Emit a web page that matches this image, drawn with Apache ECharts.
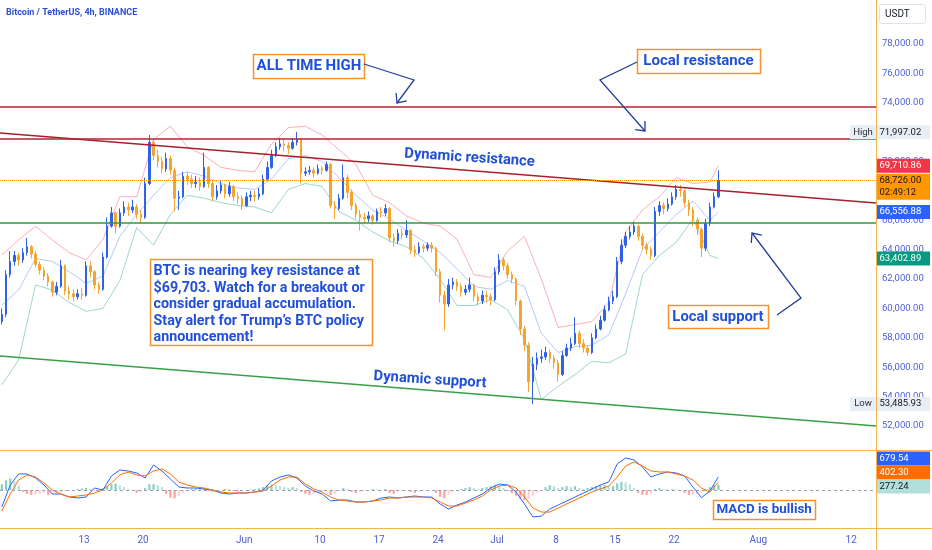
<!DOCTYPE html>
<html><head><meta charset="utf-8">
<script src="https://cdn.jsdelivr.net/npm/echarts@6/dist/echarts.min.js"></script>
<style>html,body{margin:0;padding:0;background:#fff}#c{width:932px;height:550px}</style>
</head><body><div id="c"></div>
<script>
// ---------- DATA (12h candles) ----------
const firstOpen = 59100;
const closes = [59600,62300,63200,63600,63300,63800,64200,63700,63000,62600,
62200,61800,61100,61500,62900,61200,61000,60800,61000,60900,
62900,62500,61600,61300,63500,65600,66500,65600,66500,66900,
66700,66900,66400,66200,68500,71300,70400,70000,69500,70200,
69400,67500,67600,69000,68800,68500,68600,68300,69600,68500,
67600,68000,68400,67800,68300,67600,67500,67000,67600,67700,
67600,67800,68800,69600,70400,71000,71200,71100,70900,71300,
71500,69200,69300,69400,69200,69500,69400,69800,67000,66800,
67500,68900,67900,67000,66400,66200,66100,66300,66000,66600,
66500,66800,64800,64600,65100,65000,65300,64000,63800,64200,
64100,64300,64100,62500,60900,60300,61600,61800,61500,61100,
61300,61600,60800,60500,60900,60800,60600,62500,63300,62900,
62300,62000,60500,58600,57500,55000,56200,56600,56700,57000,
56600,56300,55500,56800,57300,57600,58300,57600,57300,57000,
58000,58600,59200,59900,60500,60800,63200,64300,64900,65200,
65600,64900,64300,64000,63600,66600,67000,66800,67100,67600,
68100,68000,67200,66700,66000,65400,64100,65800,66900,67600,
68726];
const highs = [60000,62600,63900,63900,63800,64100,64800,64300,63900,63200,
62800,62400,61900,61800,63300,63000,61500,61300,61300,61400,
63200,63200,62600,61800,63800,66200,66900,66600,66800,67300,
67200,67400,67100,66700,68900,71800,71500,70800,70300,70600,
70400,69600,68000,69300,69300,69100,69000,68900,70600,69700,
68700,68400,68700,68500,68600,68400,67900,67700,67900,68000,
68000,68200,69100,70000,70800,71300,71600,71500,71300,71600,
71997,71600,69600,69700,69600,69800,69700,70000,69900,67300,
67800,69800,69100,68100,67200,66700,66500,66600,66400,66800,
66900,67100,66900,65100,65400,65400,66000,65400,64300,64500,
64400,64500,64500,64200,62700,61200,62000,62100,62000,61700,
61600,62100,61700,61000,61200,61200,61000,62800,63700,63500,
63100,62500,62100,60600,58800,57700,56700,57000,57200,57400,
57200,56800,56500,57100,57600,58000,59400,58500,57900,57500,
58300,58900,59500,60200,60800,61200,63500,64700,65200,65600,
65900,65700,65100,64500,64200,66900,67300,67200,67500,67900,
68400,68400,68100,67400,66900,66200,65500,66100,67200,67900,
69400];
const lows = [58900,59400,62100,62900,62900,63100,63600,63400,62800,62300,
61900,61500,60800,60900,61400,60900,60600,60500,60600,60600,
60800,62100,61300,61000,61200,63400,65500,65100,65500,66300,
66300,66500,66100,65800,66100,68400,70100,69600,69200,69300,
69100,66600,66700,67500,68400,68200,68200,68000,68200,68200,
67300,67400,67800,67500,67600,67300,67100,66700,66900,67300,
67300,67400,67700,68700,69500,70300,70800,70700,70500,70800,
71100,68500,69000,69100,68900,69100,69100,69300,66800,66100,
66700,67400,67500,66700,66100,65300,65800,65900,65700,65900,
66200,66300,64500,64200,64400,64700,64800,63700,63500,63700,
63800,63900,63800,62200,60400,58500,60100,61300,61200,60800,
60900,61100,60500,60200,60300,60400,60200,60500,62300,62600,
62000,61700,60200,58200,57100,54300,53486,55800,56300,56500,
56300,55900,55000,55400,56700,57100,57500,57300,57000,56800,
56900,57900,58500,59100,59800,60300,60700,63000,64100,64700,
65000,64600,64000,63700,63300,63500,66300,66400,66600,67000,
67400,67600,66900,66300,65600,65000,63500,63900,65600,66800,
67500];

// Bollinger bands, sampled at these candle indices
const bbIndex = [0,4,8,12,16,20,24,28,32,36,40,44,48,52,56,60,64,68,72,76,80,84,88,92,96,100,104,108,112,116,120,124,128,132,136,140,144,148,152,156,160,164,168,170];
const bbUpper = [63640,64660,65600,64660,63800,63300,64700,67600,67600,71500,72400,71000,70400,69600,69400,69300,71200,72300,72400,71800,70800,69800,67700,67200,66300,65800,65600,64700,62300,62100,63900,64900,62000,58700,58900,59100,60400,65200,66700,67600,68900,68500,68600,69710.86];
const bbBasis = [60230,61250,63400,63200,62500,61700,62200,64900,66400,67700,68900,69300,69000,68500,68200,68100,68800,70200,70400,70000,68900,67700,66700,66100,65300,64600,63800,62700,61500,61300,61900,61500,58300,57000,57400,57500,58200,61000,64000,65200,66400,67300,66000,66556.88];
const bbLower = [54790,56490,61600,61250,60400,59800,60000,61900,65500,64300,66400,67700,67500,67200,67000,66900,66500,68100,68500,68300,66600,66000,65200,64600,64200,63400,62000,60200,60200,60600,59900,57900,53800,54700,55500,56400,56300,56900,62300,63600,64500,66100,63600,63402.89];

// MACD, one value every 2nd candle
const macdLine = [-884,260,832,832,624,260,-208,-208,-364,-416,
-364,104,0,728,1040,988,884,624,1300,988,
572,156,104,104,52,0,-156,-208,-156,-156,
-104,0,468,676,780,624,208,-52,-208,-572,
-520,-520,-624,-624,-572,-416,-364,-416,-364,-312,
-364,-364,-728,-988,-780,-624,-416,-208,104,312,
260,-104,-728,-1404,-1352,-988,-780,-572,-364,-156,
52,260,416,1352,1664,1560,1196,676,832,936,
884,728,150,-400,-50,679.54];
const signalLine = [-1092,-208,520,780,676,364,0,-208,-364,-312,
-260,-156,0,364,780,936,780,728,988,1092,
832,416,260,156,104,0,-104,-156,-156,-156,
-104,-52,208,520,676,676,312,52,-104,-364,
-520,-572,-624,-624,-572,-520,-416,-416,-364,-364,
-364,-416,-624,-832,-832,-676,-520,-312,0,208,
260,104,-364,-936,-1144,-1144,-936,-728,-520,-312,
-104,52,208,676,1248,1456,1248,988,936,936,
832,728,520,100,-110,402.30];
// histogram, one value per candle
const histogram = [300,500,600,450,250,-100,-200,-250,-250,-200,
-150,-250,-200,-150,-100,-50,-50,0,50,80,
100,50,-30,-20,100,200,300,330,250,150,
50,-50,-150,-100,100,300,300,250,150,-200,
-400,-430,-300,-150,-50,50,80,50,100,-50,
-100,-80,0,50,30,-50,-80,-60,0,30,
50,80,150,250,280,260,200,150,100,150,
100,-100,-200,-250,-200,-100,-50,0,-250,-200,
-50,100,50,-100,-150,-100,-50,0,50,30,
0,50,-150,-200,-100,-50,0,-100,-150,-100,
-50,0,0,-150,-350,-430,-250,-100,0,50,
100,150,100,50,100,150,200,260,250,100,
-50,-150,-300,-450,-520,-450,-300,-150,0,150,
250,200,100,150,200,150,200,100,50,100,
150,200,250,250,200,200,350,430,400,300,
100,-150,-250,-260,-200,50,100,50,30,50,
30,-50,-150,-250,-250,-200,-150,50,150,250,
277.24];

// Levels and trend lines
const athLevel = 73750;
const localResLevel = 71530;
const localSupLevel = 65850;
const trendDates = ['2024-05-03T00:51:00Z','2024-08-14T22:48:00Z'];
const resistanceEnds = [71942, 67177];
const supportEnds = [56762, 51997];
const lastPrice = 68726.00;
const countdown = '02:49:12';
const periodHigh = 71997.02;
const periodLow = 53485.93;

// Axis ticks
const tickDates = ['2024-05-13','2024-05-20','2024-06-01','2024-06-10','2024-06-17','2024-06-24','2024-07-01','2024-07-08','2024-07-15','2024-07-22','2024-08-01','2024-08-12'];
const tickLabels = ['13','20','Jun','10','17','24','Jul','8','15','22','Aug','12'];

// ---------- BUILD ----------
const t0 = Date.UTC(2024,4,3,0,0);
const H = 3600e3;
const candleTime = closes.map((c,i)=> t0 + (i*12+6)*H);
const candleData = closes.map((c,i)=>[candleTime[i], i? closes[i-1] : firstOpen, c, lows[i], highs[i]]);
const bbU = bbIndex.map((k,j)=>[candleTime[k], bbUpper[j]]);
const bbM = bbIndex.map((k,j)=>[candleTime[k], bbBasis[j]]);
const bbL = bbIndex.map((k,j)=>[candleTime[k], bbLower[j]]);
const macdData = macdLine.map((v,k)=>[candleTime[Math.min(2*k, closes.length-1)], v]);
const sigData = signalLine.map((v,k)=>[candleTime[Math.min(2*k, closes.length-1)], v]);
const histData = histogram.map((v,i)=>[candleTime[i], v]);
const tickTs = tickDates.map(d=>Date.parse(d+'T00:00:00Z'));
const tMin = Date.parse(trendDates[0]), tMax = Date.parse(trendDates[1]);

function fmt(v){
  const s = Math.abs(v).toFixed(2); const p = s.split('.');
  return (v<0?'-':'') + p[0].replace(/\B(?=(\d{3})+(?!\d))/g, ',') + '.' + p[1];
}
const AX = '#4c5fd5';
const FONT = 'Roboto, "Noto Sans", sans-serif';

const option = {
  animation: false,
  textStyle: {fontFamily: FONT},
  grid: [
    {left: 0, right: 56, top: 14.6, height: 440.7},
    {left: 0, right: 56, top: 451.5, height: 77}
  ],
  xAxis: [
    {type:'value', gridIndex:0, min:tMin, max:tMax, show:false, splitLine:{show:false}},
    {type:'value', gridIndex:1, min:tMin, max:tMax,
     axisLine:{show:false}, axisTick:{show:false}, splitLine:{show:false},
     axisLabel:{customValues: tickTs, color: AX, fontSize: 10, margin: 7,
       formatter: v => { const i = tickTs.indexOf(v); return i>=0 ? tickLabels[i] : ''; }}}
  ],
  yAxis: [
    {type:'value', gridIndex:0, position:'right', min:50000, max:80000, interval:2000,
     axisLine:{show:false}, axisTick:{show:false}, splitLine:{show:false},
     axisLabel:{color: AX, fontSize: 9.5, margin: 6, showMinLabel:false, showMaxLabel:false, formatter: v=>fmt(v)}},
    {type:'value', gridIndex:1, position:'right', min:-2000, max:2000, interval:1000,
     axisLine:{show:false}, axisTick:{show:false}, splitLine:{show:false},
     axisLabel:{color: AX, fontSize: 9.5, margin: 6, formatter: v=> v===0 ? '0.00' : ''}}
  ],
  series: [
    {type:'line', name:'bbU', xAxisIndex:0, yAxisIndex:0, data:bbU, showSymbol:false, silent:true,
     lineStyle:{color:'rgba(242,54,69,0.4)', width:1}, z:1},
    {type:'line', name:'bbM', xAxisIndex:0, yAxisIndex:0, data:bbM, showSymbol:false, silent:true,
     lineStyle:{color:'rgba(41,98,255,0.35)', width:1}, z:1},
    {type:'line', name:'bbL', xAxisIndex:0, yAxisIndex:0, data:bbL, showSymbol:false, silent:true,
     lineStyle:{color:'rgba(8,153,129,0.4)', width:1}, z:1},
    {type:'candlestick', xAxisIndex:0, yAxisIndex:0, data:candleData, barWidth:2, z:3,
     itemStyle:{color:'#2f62ea', color0:'#f5a52d', borderColor:'#2f62ea', borderColor0:'#f5a52d', borderWidth:1},
     markLine:{silent:true, symbol:['none','none'], label:{show:false},
       data:[
         {yAxis: athLevel, lineStyle:{color:'#b3242f', width:1.6, type:'solid'}},
         {yAxis: localResLevel, lineStyle:{color:'#b3242f', width:1.6, type:'solid'}},
         {yAxis: localSupLevel, lineStyle:{color:'#2f9a3c', width:1.6, type:'solid'}},
         {yAxis: lastPrice, lineStyle:{color:'#ff9800', width:1, type:'dotted'}}
       ]}},
    {type:'line', name:'dynRes', xAxisIndex:0, yAxisIndex:0, showSymbol:false, silent:true, z:4,
     data: trendDates.map((d,i)=>[Date.parse(d), resistanceEnds[i]]), lineStyle:{color:'#a8202b', width:1.6}},
    {type:'line', name:'dynSup', xAxisIndex:0, yAxisIndex:0, showSymbol:false, silent:true, z:4,
     data: trendDates.map((d,i)=>[Date.parse(d), supportEnds[i]]), lineStyle:{color:'#38a046', width:1.4}},
    {type:'bar', xAxisIndex:1, yAxisIndex:1, data:histData, barWidth:2.2, silent:true,
     itemStyle:{color: p => { const v = p.value[1]; const pv = p.dataIndex ? histogram[p.dataIndex-1] : 0;
        if (v >= 0) return v >= pv ? 'rgba(38,166,154,0.55)' : 'rgba(178,223,219,0.95)';
        return v < pv ? 'rgba(255,82,82,0.55)' : 'rgba(255,205,210,0.95)'; }},
     markLine:{silent:true, symbol:['none','none'], label:{show:false},
       data:[{yAxis:0, lineStyle:{color:'#9aa0ad', width:1, type:[3,3]}}]}},
    {type:'line', name:'macd', xAxisIndex:1, yAxisIndex:1, data:macdData, showSymbol:false, silent:true,
     lineStyle:{color:'#2962ff', width:1}},
    {type:'line', name:'signal', xAxisIndex:1, yAxisIndex:1, data:sigData, showSymbol:false, silent:true,
     lineStyle:{color:'#ff6d00', width:1}}
  ]
};

const chart = echarts.init(document.getElementById('c'));
chart.setOption(option);

// ---------- OVERLAYS ----------
const BLUE = '#2150d8', ORANGE = '#f5922e', NAVY = '#213e9f', SEP = '#f6b451';
const yP = v => chart.convertToPixel({yAxisIndex:0}, v);
const g = [];
function rect(x,y,w,h,fill,stroke,lw,r){ g.push({type:'rect', z:100, shape:{x,y,width:w,height:h,r:r||0}, style:{fill, stroke:stroke||null, lineWidth:lw||0}}); }
function text(x,y,t,font,fill,align,rot){ g.push({type:'text', z:101, x, y, rotation:rot||0, style:{text:t, font, fill, textAlign:align||'left', textVerticalAlign:'middle', align:align||'left', verticalAlign:'middle'}}); }
function line(pts,stroke,lw){ g.push({type:'polyline', z:100, shape:{points:pts}, style:{stroke, lineWidth:lw, fill:null}}); }
function arrow(pts){
  line(pts, NAVY, 1.3);
  const n = pts.length, tip = pts[n-1], pr = pts[n-2];
  const a = Math.atan2(tip[1]-pr[1], tip[0]-pr[0]), L = 10, s = 0.72;
  line([[tip[0]-L*Math.cos(a-s), tip[1]-L*Math.sin(a-s)], tip, [tip[0]-L*Math.cos(a+s), tip[1]-L*Math.sin(a+s)]], NAVY, 1.3);
}
// pane separators
line([[876.5,0],[876.5,550]], SEP, 1);
line([[0,450.5],[932,450.5]], SEP, 1);
line([[0,528.5],[932,528.5]], SEP, 1);
// title
text(6, 13, 'Bitcoin / TetherUS, 4h, BINANCE', 'bold 9px '+FONT, '#2b4fd1');
// USDT box
rect(879.5, 4.5, 46, 19, '#ffffff', '#e0e3eb', 1, 2);
text(885, 14, 'USDT', '10px '+FONT, '#131722');
// axis value markers
const axf = '9.5px '+FONT;
function marker(v, bg, fg){ const y = yP(v); rect(877, y-7, 53, 14, bg); text(879.5, y, fmt(v), axf, fg); }
(function(){ const y = yP(periodHigh); rect(850, y-7, 26, 14, '#e9edf5'); text(863, y, 'High', axf, '#2a2e39', 'center'); rect(877, y-7, 53, 14, '#e9edf5'); text(879.5, y, fmt(periodHigh), axf, '#131722'); })();
(function(){ const y = yP(periodLow); rect(850, y-7, 26, 14, '#e9edf5'); text(863, y, 'Low', axf, '#2a2e39', 'center'); rect(877, y-7, 53, 14, '#e9edf5'); text(879.5, y, fmt(periodLow), axf, '#131722'); })();
marker(bbUpper[bbUpper.length-1], '#f23645', '#ffffff');
(function(){ const y = yP(lastPrice); rect(877, y-6.5, 53, 26, '#ff9800'); text(879.5, y, fmt(lastPrice), axf, '#131722'); text(879.5, y+12, countdown, axf, '#131722'); })();
marker(bbBasis[bbBasis.length-1], '#2962ff', '#ffffff');
marker(bbLower[bbLower.length-1], '#089981', '#ffffff');
// MACD pane value markers (stacked at top of the pane)
const macdMarks = [[macdLine[macdLine.length-1], '#2962ff', '#ffffff'], [signalLine[signalLine.length-1], '#ff6d00', '#ffffff'], [histogram[histogram.length-1], '#b2dfdb', '#131722']];
macdMarks.forEach((m,i)=>{ const y = 458.5 + i*14; rect(877, y-7, 53, 14, m[1]); text(879.5, y, fmt(m[0]), axf, m[2]); });
// annotations
const bf = s => 'bold '+s+'px '+FONT;
rect(253.5, 54.5, 111, 24, '#ffffff', ORANGE, 1.5); text(309, 66.5, 'ALL TIME HIGH', bf(15), BLUE, 'center');
rect(637.5, 49.5, 123, 24, '#ffffff', ORANGE, 1.5); text(698.5, 61.5, 'Local resistance', bf(15), BLUE, 'center');
rect(668.5, 305.5, 100, 23, '#ffffff', ORANGE, 1.5); text(718, 317, 'Local support', bf(14.8), BLUE, 'center');
rect(713.5, 500.5, 102, 19, '#ffffff', ORANGE, 1.5); text(716.5, 510, 'MACD is bullish', bf(13.4), BLUE, 'left');
rect(150.5, 259.5, 222, 86, '#ffffff', ORANGE, 1.5);
['BTC is nearing key resistance at','$69,703. Watch for a breakout or','consider gradual accumulation.','Stay alert for Trump\u2019s BTC policy','announcement!']
  .forEach((s,i)=> text(153.5, 271.5 + i*16.6, s, bf(14.3), BLUE, 'left'));
text(469.5, 158, 'Dynamic resistance', bf(14.8), BLUE, 'center', -0.065);
text(430, 380, 'Dynamic support', bf(14.8), BLUE, 'center', -0.065);
arrow([[364,64],[414,80],[397,103]]);
arrow([[637,62],[600,80],[645,131]]);
arrow([[777,315],[801,298],[752,233]]);
chart.setOption({graphic: g});
</script></body></html>
